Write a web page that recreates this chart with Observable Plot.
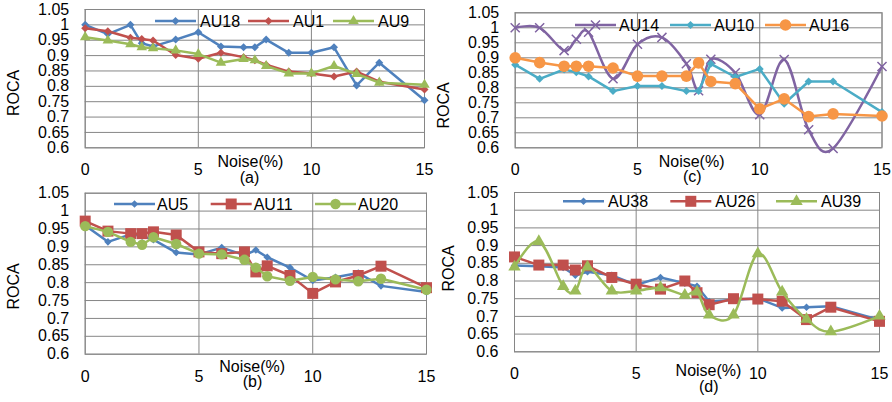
<!DOCTYPE html>
<html><head><meta charset="utf-8">
<script src="https://cdn.jsdelivr.net/npm/d3@7"></script>
<script src="https://cdn.jsdelivr.net/npm/@observablehq/plot@0.6"></script>
<style>
html,body{margin:0;padding:0;background:#fff;}
#chart{position:relative;width:892px;height:402px;overflow:hidden;background:#fff;}
.panel{position:absolute;}
.panel svg{overflow:visible;background:transparent !important;}
</style></head><body><div id="chart"></div>
<script>
// ---- data ----
const noise = [0, 1, 2, 2.5, 3, 4, 5, 6, 7, 7.5, 8, 9, 10, 11, 12, 13, 15];
const xTicks = [0, 5, 10, 15];
const yTicks = [0.6, 0.65, 0.7, 0.75, 0.8, 0.85, 0.9, 0.95, 1, 1.05];
const xLabel = "Noise(%)";
const yLabel = "ROCA";
const panelLabels = ["(a)", "(b)", "(c)", "(d)"];
// panel (a)
const AU18 = [1.0, 0.97, 1.0, 0.94, 0.93, 0.952, 0.976, 0.93, 0.927, 0.927, 0.952, 0.909, 0.909, 0.927, 0.803, 0.877, 0.755];
const AU1  = [0.989, 0.979, 0.958, 0.954, 0.949, 0.902, 0.89, 0.909, 0.895, 0.885, 0.87, 0.848, 0.842, 0.832, 0.848, 0.815, 0.79];
const AU9  = [0.96, 0.949, 0.937, 0.927, 0.924, 0.917, 0.905, 0.877, 0.889, 0.885, 0.866, 0.842, 0.842, 0.866, 0.84, 0.812, 0.805];
// panel (c)
const AU14 = [1.0, 1.0, 0.924, 0.962, 0.985, 0.83, 0.945, 0.968, 0.88, 0.79, 0.895, 0.85, 0.71, 0.894, 0.66, 0.598, 0.871];
const AU10 = [0.877, 0.83, 0.861, 0.852, 0.838, 0.789, 0.806, 0.806, 0.789, 0.789, 0.88, 0.836, 0.863, 0.747, 0.821, 0.821, 0.719];
const AU16 = [0.9, 0.884, 0.872, 0.872, 0.872, 0.866, 0.839, 0.839, 0.839, 0.883, 0.821, 0.814, 0.73, 0.763, 0.704, 0.713, 0.706];
// panel (b)
const AU5  = [0.96, 0.914, 0.935, 0.93, 0.92, 0.884, 0.879, 0.898, 0.877, 0.891, 0.871, 0.842, 0.806, 0.815, 0.827, 0.791, 0.774];
const AU11 = [0.972, 0.944, 0.937, 0.937, 0.942, 0.933, 0.886, 0.881, 0.886, 0.83, 0.847, 0.82, 0.77, 0.802, 0.82, 0.846, 0.786];
const AU20 = [0.958, 0.942, 0.914, 0.906, 0.927, 0.908, 0.881, 0.879, 0.864, 0.842, 0.818, 0.805, 0.816, 0.809, 0.804, 0.811, 0.78];
// panel (d)
const AU38 = [0.844, 0.842, 0.838, 0.816, 0.826, 0.816, 0.789, 0.81, 0.794, 0.785, 0.742, 0.746, 0.751, 0.724, 0.726, 0.729, 0.69];
const AU26 = [0.868, 0.845, 0.845, 0.831, 0.843, 0.81, 0.791, 0.777, 0.8, 0.767, 0.733, 0.75, 0.749, 0.743, 0.691, 0.726, 0.686];
const AU39 = [0.84, 0.912, 0.785, 0.772, 0.84, 0.772, 0.772, 0.781, 0.76, 0.769, 0.704, 0.704, 0.877, 0.769, 0.692, 0.657, 0.701];

// ---- styling ----
const C = {blue: "#4F81BD", red: "#C0504D", green: "#9BBB59", purple: "#8064A2", teal: "#4BACC6", orange: "#F79646"};
const GRID = "#868686";
const FONT = "'Liberation Sans', Arial, sans-serif";
const symbolMap = {diamond2: d3.symbolDiamond2, triangle: d3.symbolTriangle, times: d3.symbolTimes, circle: d3.symbolCircle, square: d3.symbolSquare};

const panels = [
  {label: panelLabels[0], left: 0, top: 0, w: 446, h: 185, mL: 84.7, mR: 22, mT: 9, mB: 37.7,
   roca: [-71.2, 14.3], xl: [-4.4, 18.7], pl: [-5.4, 34.7], legY: 12, legStarts: [70.3, 163.3, 248.3], legText: 45,
   series: [
     {name: "AU18", values: AU18, color: C.blue, symbol: "diamond2", r: 3.6},
     {name: "AU1", values: AU1, color: C.red, symbol: "diamond2", r: 3.6},
     {name: "AU9", values: AU9, color: C.green, symbol: "triangle", r: 3.9}]},
  {label: panelLabels[2], left: 446, top: 0, w: 446, h: 185, mL: 68.7, mR: 10.5, mT: 12.3, mB: 37.7,
   roca: [-71.2, 25.2], xl: [-7, 19.4], pl: [-6.3, 34.4], legY: 12.7, legStarts: [60.3, 155.3, 250.3], legText: 44,
   series: [
     {name: "AU14", values: AU14, color: C.purple, symbol: "times", r: 4.2, curve: "cardinal"},
     {name: "AU10", values: AU10, color: C.teal, symbol: "diamond2", r: 3.6},
     {name: "AU16", values: AU16, color: C.orange, symbol: "circle", r: 5.8}]},
  {label: panelLabels[1], left: 0, top: 185, w: 446, h: 217, mL: 84.7, mR: 20, mT: 7.7, mB: 48.3,
   roca: [-71, 12.8], xl: [-3.7, 18], pl: [-3.4, 33], legY: 11.3, legStarts: [29.3, 126, 230.3], legText: 43,
   series: [
     {name: "AU5", values: AU5, color: C.blue, symbol: "diamond2", r: 3.4},
     {name: "AU11", values: AU11, color: C.red, symbol: "square", r: 6.2},
     {name: "AU20", values: AU20, color: C.green, symbol: "circle", r: 5.2}]},
  {label: panelLabels[3], left: 446, top: 185, w: 446, h: 217, mL: 68, mR: 13, mT: 7, mB: 50.7,
   roca: [-66, -3.7], xl: [11.5, 24.4], pl: [11.8, 40.4], legY: 9.3, legStarts: [49, 156.3, 262], legText: 45,
   series: [
     {name: "AU38", values: AU38, color: C.blue, symbol: "diamond2", r: 3.4},
     {name: "AU26", values: AU26, color: C.red, symbol: "square", r: 6.2},
     {name: "AU39", values: AU39, color: C.green, symbol: "triangle", r: 4.6, curve: "cardinal"}]}
];

function dotStyle(s) {
  return s.symbol === "times"
    ? {fill: "none", stroke: s.color, strokeWidth: 1.5}
    : {fill: s.color, stroke: "none"};
}

function legendMark(p) {
  return () => {
    const g = d3.create("svg:g").attr("font-family", FONT).attr("font-size", 16).attr("fill", "#000");
    p.series.forEach((s, i) => {
      const x0 = p.mL + p.legStarts[i], y = p.mT + p.legY;
      g.append("line").attr("x1", x0).attr("x2", x0 + 41).attr("y1", y).attr("y2", y)
        .attr("stroke", s.color).attr("stroke-width", 2.5);
      const st = dotStyle(s);
      g.append("path").attr("transform", `translate(${x0 + 20.5},${y})`)
        .attr("d", d3.symbol(symbolMap[s.symbol], Math.PI * s.r * s.r)())
        .attr("fill", st.fill).attr("stroke", st.stroke).attr("stroke-width", st.strokeWidth || null);
      g.append("text").attr("x", x0 + p.legText).attr("y", y).attr("dy", "0.35em")
        .attr("text-anchor", "start").text(s.name);
    });
    return g.node();
  };
}

const root = document.getElementById("chart");
for (const p of panels) {
  const marks = [
    Plot.gridY(yTicks, {stroke: GRID, strokeOpacity: 1, strokeWidth: 1}),
    Plot.gridX(xTicks, {stroke: GRID, strokeOpacity: 1, strokeWidth: 1}),
    Plot.frame({stroke: GRID, strokeWidth: 1}),
    Plot.axisX(xTicks, {tickSize: 0, tickPadding: 16, label: null}),
    Plot.axisY(yTicks, {tickSize: 0, tickPadding: 16, label: null, tickFormat: d => String(+d.toFixed(2))})
  ];
  for (const s of p.series) {
    const pts = noise.map((x, i) => ({x, y: s.values[i]}));
    marks.push(Plot.line(pts, {x: "x", y: "y", stroke: s.color, strokeWidth: 2.5, curve: s.curve || "linear"}));
    marks.push(Plot.dot(pts, {x: "x", y: "y", symbol: s.symbol, r: s.r, ...dotStyle(s)}));
  }
  marks.push(legendMark(p));
  marks.push(Plot.text([yLabel], {text: d => d, frameAnchor: "left", textAnchor: "middle", rotate: -90, dx: p.roca[0], dy: p.roca[1]}));
  marks.push(Plot.text([xLabel], {text: d => d, frameAnchor: "bottom", textAnchor: "middle", dx: p.xl[0], dy: p.xl[1]}));
  marks.push(Plot.text([p.label], {text: d => d, frameAnchor: "bottom", textAnchor: "middle", dx: p.pl[0], dy: p.pl[1]}));

  const svg = Plot.plot({
    width: p.w, height: p.h,
    marginLeft: p.mL, marginRight: p.mR, marginTop: p.mT, marginBottom: p.mB,
    x: {domain: [0, 15]},
    y: {domain: [0.6, 1.05]},
    style: {fontFamily: FONT, fontSize: "16px", color: "#000", background: "transparent", overflow: "visible"},
    marks
  });
  const div = document.createElement("div");
  div.className = "panel";
  div.style.left = p.left + "px";
  div.style.top = p.top + "px";
  div.appendChild(svg);
  root.appendChild(div);
}
</script></body></html>
